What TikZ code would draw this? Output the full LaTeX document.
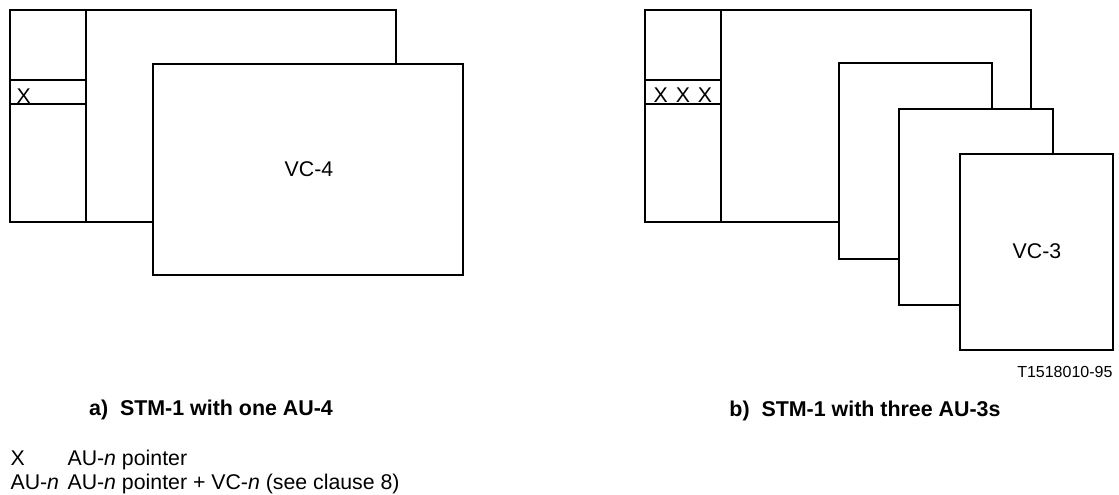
\documentclass[tikz,border=0pt]{standalone}
\usepackage{fontspec}
\setmainfont{Liberation Sans}
\usetikzlibrary{positioning}

\begin{document}
\begin{tikzpicture}[x=1pt,y=-1pt,line width=1.1pt,
  frame/.style={draw,fill=white},
  lbl/.style={font=\fontsize{21.3}{25}\selectfont,inner sep=0pt},
  title/.style={font=\fontsize{21.4}{25}\selectfont\bfseries,inner sep=0pt}]
\useasboundingbox (0,0) rectangle (1119,495);
% a) one AU-4
\draw[frame] (10,10) rectangle (396,222);
\draw (86,10)--(86,222);
\draw (10,80)--(86,80) (10,104)--(86,104);
\draw[frame] (153,64) rectangle (463,275);
\node[lbl,anchor=base west] (ptra) at (16,103) {X};
\node[lbl] (vcfour) at (309,169) {VC-4};
% b) three AU-3s
\draw[frame] (645,10) rectangle (1031,222);
\draw (721,10)--(721,222);
\draw (645,80)--(721,80) (645,104)--(721,104);
\draw[frame] (839,63) rectangle (992,259);
\draw[frame] (899,109) rectangle (1053,305);
\draw[frame] (960,154) rectangle (1113,350);
\node[lbl,anchor=base west] (ptrb) at (653,102) {X\hspace{8pt}X\hspace{8pt}X};
\node[lbl] (vcthree) at (1037,251) {VC-3};
\node[font=\fontsize{16}{19}\selectfont,inner sep=0pt,anchor=east] (fig) at (1113,372) {T1518010-95};
% captions
\node[title] (capa) at (211,410) {a)\ \ STM-1 with one AU-4};
\node[title] (capb) at (865,411) {b)\ \ STM-1 with three AU-3s};
% key
\node[lbl,anchor=base west] (keyx) at (10,465) {X};
\node[lbl,anchor=base west] (keyxt) at (67,465) {AU-\textit{n} pointer};
\node[lbl,anchor=base west] (keyau) at (10,489) {AU-\textit{n}};
\node[lbl,anchor=base west] (keyaut) at (67,489) {AU-\textit{n} pointer + VC-\textit{n} (see clause 8)};
\end{tikzpicture}
\end{document}
